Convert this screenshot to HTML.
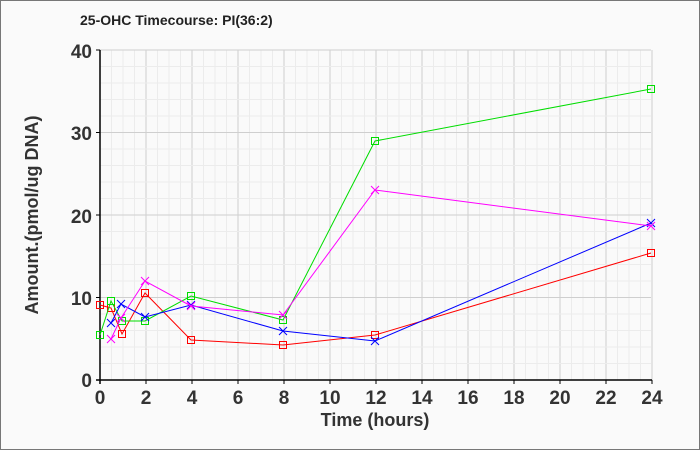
<!DOCTYPE html><html><head><style>body{margin:0;background:#fafafa}svg{display:block}text{font-family:"Liberation Sans",sans-serif;font-weight:bold}</style></head><body>
<svg width="700" height="450" xmlns="http://www.w3.org/2000/svg">
<rect x="0.5" y="0.5" width="699" height="449" fill="#fafafa" stroke="#777"/>
<text x="80" y="25" font-size="14" fill="#222">25-OHC Timecourse: PI(36:2)</text>
<g id="g"></g>
<line x1="100" y1="50" x2="100" y2="384" stroke="#000" stroke-width="1.5"/>
<line x1="96" y1="380" x2="652" y2="380" stroke="#000" stroke-width="1.5"/>
<g font-size="19" fill="#333" text-anchor="end">
<text x="92" y="387">0</text><text x="92" y="305">10</text><text x="92" y="223">20</text><text x="92" y="140">30</text><text x="92" y="58">40</text></g>
<g id="xl" font-size="19" fill="#333" text-anchor="middle"></g>
<text x="375" y="426" font-size="18" fill="#333" text-anchor="middle">Time (hours)</text>
<text transform="translate(38,215) rotate(-90)" font-size="18" fill="#333" text-anchor="middle">Amount.(pmol/ug DNA)</text>
<g id="d" fill="none" stroke-width="1"></g>
</svg>
<script>
var ns="http://www.w3.org/2000/svg",g=document.getElementById('g'),s='';
for(var i=1;i<=48;i++){var x=100+i*11.5;s+='<line x1="'+x+'" y1="50" x2="'+x+'" y2="380" stroke="'+(i%4?'#ececec':'#cfcfcf')+'"/>';}
for(var j=1;j<=20;j++){var y=380-j*16.5;s+='<line x1="100" y1="'+y+'" x2="651" y2="'+y+'" stroke="'+(j%5?'#ececec':'#cfcfcf')+'"/>';}
for(var i=0;i<=12;i++){var x=100+i*46;s+='<line x1="'+x+'" y1="380" x2="'+x+'" y2="384" stroke="#000"/>';}
for(var j=0;j<=4;j++){var y=380-j*82.5;s+='<line x1="96" y1="'+y+'" x2="100" y2="'+y+'" stroke="#000"/>';}
g.innerHTML=s;
var xl='';for(var i=0;i<=12;i++)xl+='<text x="'+(100+i*46)+'" y="404">'+(i*2)+'</text>';document.getElementById('xl').innerHTML=xl;
var S=[
['#f00','s',[[100,305],[111,308],[122,334],[145,293],[191,340],[283,345],[375,335],[651,253]]],
['#0d0','s',[[100,335],[111,301],[122,321],[145,321],[191,296],[283,320],[375,141],[651,89]]],
['#00f','x',[[111,323],[121,304],[145,317],[191,305],[283,331],[375,341],[651,223]]],
['#f0f','x',[[111,339],[121,318],[145,281],[191,306],[283,315],[375,190],[651,226]]]];
var d='';S.forEach(function(a){d+='<polyline stroke="'+a[0]+'" points="'+a[2].map(function(p){return p.join(',')}).join(' ')+'"/>';
a[2].forEach(function(p){if(a[1]=='s')d+='<rect x="'+(p[0]-3.5)+'" y="'+(p[1]-3.5)+'" width="7" height="7" stroke="'+a[0]+'"/>';else d+='<path d="M'+(p[0]-4)+' '+(p[1]-4)+'l8 8M'+(p[0]-4)+' '+(p[1]+4)+'l8 -8" stroke="'+a[0]+'"/>';});});
document.getElementById('d').innerHTML=d;
</script></body></html>
